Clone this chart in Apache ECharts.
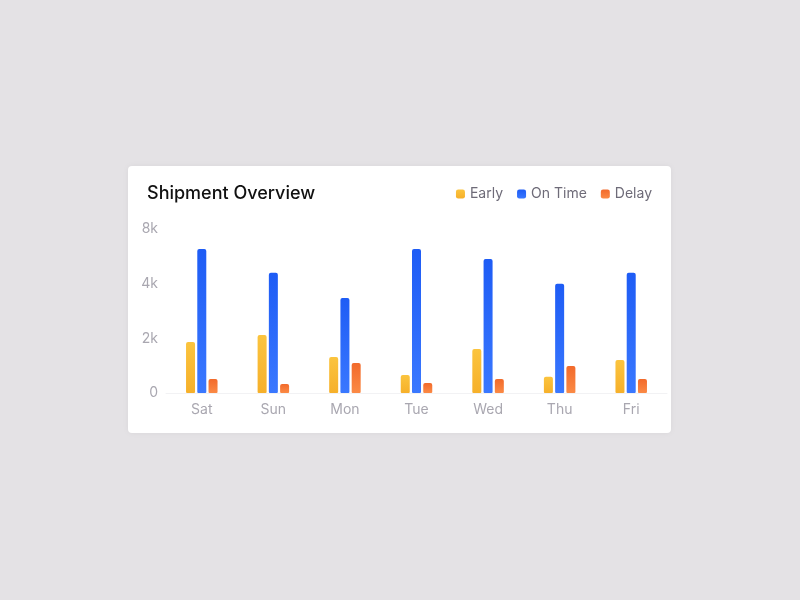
<!DOCTYPE html>
<html>
<head>
<meta charset="utf-8">
<style>
  html, body { margin: 0; padding: 0; background: #e4e2e5; }
  #chart { width: 800px; height: 600px; }
</style>
<script src="https://cdn.jsdelivr.net/npm/echarts@6/dist/echarts.min.js"></script>
</head>
<body>
<div id="chart"></div>
<script>
const days = ['Sat', 'Sun', 'Mon', 'Tue', 'Wed', 'Thu', 'Fri'];
const early = [1870, 2120, 1320, 660, 1610, 590, 1210];
const onTime = [5270, 4400, 3480, 5270, 4900, 4000, 4400];
const delay = [510, 330, 1100, 370, 510, 990, 510];
const tickLabels = ['0', '2k', '4k', '8k'];

function grad(top, bottom) {
    return new echarts.graphic.LinearGradient(0, 0, 0, 1, [
        { offset: 0, color: top },
        { offset: 1, color: bottom }
    ]);
}

const chart = echarts.init(document.getElementById('chart'));

function bar(name, data, top, bottom) {
    return {
        name: name,
        type: 'bar',
        data: data,
        barWidth: 9,
        barGap: '25%',
        itemStyle: { color: grad(top, bottom), borderRadius: [2, 2, 1, 1] }
    };
}

chart.setOption({
    backgroundColor: '#e4e2e5',
    textStyle: { fontFamily: 'Inter, "Noto Sans", sans-serif' },
    graphic: [{
        type: 'rect',
        left: 128, top: 166,
        shape: { width: 543, height: 267, r: 4 },
        style: { fill: '#ffffff', shadowBlur: 6, shadowColor: 'rgba(0,0,0,0.05)' },
        z: -10
    }],
    title: {
        text: 'Shipment Overview',
        left: 142, top: 180,
        textStyle: { fontSize: 18, fontWeight: 500, color: '#111111' }
    },
    legend: {
        right: 143, top: 182,
        itemWidth: 9, itemHeight: 9, itemGap: 14,
        icon: 'roundRect',
        textStyle: { fontSize: 14, color: '#6e6b78' },
        data: ['Early', 'On Time', 'Delay']
    },
    grid: { left: 166, right: 133, top: 229, bottom: 207 },
    xAxis: {
        type: 'category',
        data: days,
        axisLine: { lineStyle: { color: '#f2f2f4' } },
        axisTick: { show: false },
        axisLabel: { color: '#a9a7b0', fontSize: 14, margin: 10 }
    },
    yAxis: {
        type: 'value',
        min: 0, max: 6000, interval: 2000,
        splitLine: { show: false },
        axisLabel: {
            color: '#a9a7b0', fontSize: 14, margin: 8,
            formatter: (v) => tickLabels[Math.round(v / 2000)]
        }
    },
    series: [
        bar('Early', early, '#fbc43e', '#f6b02a'),
        bar('On Time', onTime, '#1e5cf5', '#3a78ff'),
        bar('Delay', delay, '#f26a2b', '#fb8a45')
    ]
});
</script>
</body>
</html>
